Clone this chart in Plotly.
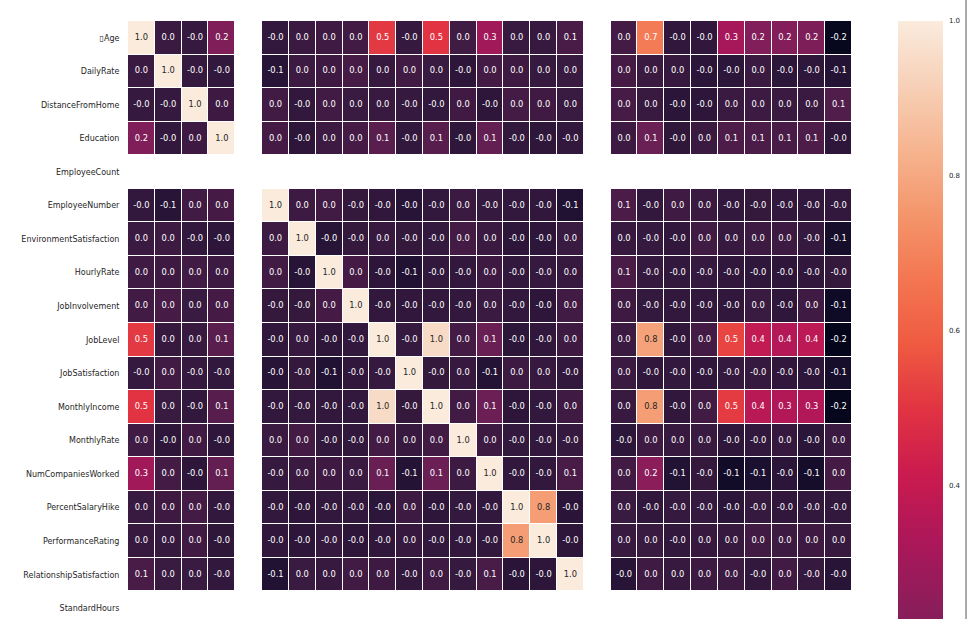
import plotly.graph_objects as go

N = None
# column order of the correlation matrix (last column = Attrition)
col_names = ["\u25afAge", "DailyRate", "DistanceFromHome", "Education", "EmployeeCount",
             "EmployeeNumber", "EnvironmentSatisfaction", "HourlyRate", "JobInvolvement",
             "JobLevel", "JobSatisfaction", "MonthlyIncome", "MonthlyRate",
             "NumCompaniesWorked", "PercentSalaryHike", "PerformanceRating",
             "RelationshipSatisfaction", "StandardHours", "StockOptionLevel",
             "TotalWorkingYears", "TrainingTimesLastYear", "WorkLifeBalance",
             "YearsAtCompany", "YearsInCurrentRole", "YearsSinceLastPromotion",
             "YearsWithCurrManager", "Attrition"]
row_names = col_names[:18]

age = [1.0, 0.011, -0.002, 0.208, N, -0.010, 0.010, 0.024, 0.030, 0.510, -0.005, 0.498, 0.028, 0.300, 0.004, 0.002, 0.054, N, 0.038, 0.680, -0.020, -0.021, 0.311, 0.213, 0.217, 0.202, -0.159]
daily_rate = [0.011, 1.0, -0.005, -0.017, N, -0.051, 0.018, 0.023, 0.046, 0.003, 0.031, 0.008, -0.032, 0.038, 0.023, 0.0005, 0.008, N, 0.042, 0.015, 0.002, -0.038, -0.034, 0.010, -0.033, -0.026, -0.057]
distance = [-0.002, -0.005, 1.0, 0.021, N, 0.033, -0.016, 0.031, 0.009, 0.005, -0.003, -0.017, 0.027, -0.029, 0.040, 0.027, 0.007, N, 0.045, 0.005, -0.037, -0.027, 0.010, 0.019, 0.010, 0.014, 0.078]
education = [0.208, -0.017, 0.021, 1.0, N, 0.042, -0.027, 0.017, 0.042, 0.102, -0.011, 0.095, -0.026, 0.126, -0.011, -0.025, -0.009, N, 0.018, 0.148, -0.025, 0.010, 0.069, 0.060, 0.054, 0.069, -0.031]
employee_count = [N] * 27
employee_number = [-0.010, -0.051, 0.033, 0.042, N, 1.0, 0.018, 0.035, -0.007, -0.019, -0.046, -0.015, 0.013, -0.001, -0.013, -0.020, -0.070, N, 0.062, -0.014, 0.024, 0.010, -0.011, -0.008, -0.009, -0.009, -0.010]
env_sat = [0.010, 0.018, -0.016, -0.027, N, 0.018, 1.0, -0.049, -0.008, 0.002, -0.007, -0.006, 0.038, 0.013, -0.032, -0.030, 0.008, N, 0.003, -0.003, -0.019, 0.028, 0.001, 0.018, 0.016, -0.005, -0.103]
hourly_rate = [0.024, 0.023, 0.031, 0.017, N, 0.035, -0.049, 1.0, 0.043, -0.028, -0.071, -0.016, -0.015, 0.022, -0.009, -0.002, 0.001, N, 0.051, -0.002, -0.009, -0.005, -0.020, -0.024, -0.027, -0.020, -0.007]
job_involvement = [0.030, 0.046, 0.009, 0.042, N, -0.007, -0.008, 0.043, 1.0, -0.013, -0.021, -0.015, -0.016, 0.015, -0.017, -0.029, 0.034, N, 0.022, -0.006, -0.015, -0.015, -0.021, 0.009, -0.024, 0.026, -0.130]
job_level = [0.510, 0.003, 0.005, 0.102, N, -0.019, 0.002, -0.028, -0.013, 1.0, -0.002, 0.951, 0.040, 0.143, -0.035, -0.021, 0.022, N, 0.014, 0.782, -0.018, 0.038, 0.535, 0.390, 0.354, 0.375, -0.169]
job_sat = [-0.005, 0.031, -0.003, -0.011, N, -0.046, -0.007, -0.071, -0.021, -0.002, 1.0, -0.007, 0.001, -0.056, 0.020, 0.002, -0.012, N, 0.011, -0.020, -0.006, -0.019, -0.004, -0.002, -0.018, -0.028, -0.103]
monthly_income = [0.498, 0.008, -0.017, 0.095, N, -0.015, -0.006, -0.016, -0.015, 0.951, -0.007, 1.0, 0.035, 0.149, -0.027, -0.017, 0.026, N, 0.005, 0.773, -0.022, 0.031, 0.514, 0.364, 0.345, 0.344, -0.160]
monthly_rate = [0.028, -0.032, 0.027, -0.026, N, 0.013, 0.038, -0.015, -0.016, 0.040, 0.001, 0.035, 1.0, 0.018, -0.006, -0.010, -0.004, N, -0.034, 0.026, 0.001, 0.008, -0.024, -0.013, 0.002, -0.037, 0.015]
num_companies = [0.300, 0.038, -0.029, 0.126, N, -0.001, 0.013, 0.022, 0.015, 0.143, -0.056, 0.149, 0.018, 1.0, -0.010, -0.014, 0.053, N, 0.030, 0.238, -0.066, -0.008, -0.118, -0.091, -0.037, -0.111, 0.043]
salary_hike = [0.004, 0.023, 0.040, -0.011, N, -0.013, -0.032, -0.009, -0.017, -0.035, 0.020, -0.027, -0.006, -0.010, 1.0, 0.774, -0.040, N, 0.008, -0.021, -0.005, -0.003, -0.036, -0.002, -0.022, -0.012, -0.013]
performance = [0.002, 0.0005, 0.027, -0.025, N, -0.020, -0.030, -0.002, -0.029, -0.021, 0.002, -0.017, -0.010, -0.014, 0.774, 1.0, -0.031, N, 0.004, 0.007, -0.016, 0.003, 0.003, 0.035, 0.018, 0.023, 0.003]
relationship = [0.054, 0.008, 0.007, -0.009, N, -0.070, 0.008, 0.001, 0.034, 0.022, -0.012, 0.026, -0.004, 0.053, -0.040, -0.031, 1.0, N, -0.046, 0.024, 0.003, 0.020, 0.019, -0.015, 0.033, -0.001, -0.046]
standard_hours = [N] * 27

z_rows = [age, daily_rate, distance, education, employee_count, employee_number,
          env_sat, hourly_rate, job_involvement, job_level, job_sat, monthly_income,
          monthly_rate, num_companies, salary_hike, performance, relationship,
          standard_hours]

ZMIN, ZMAX = -0.171, 1.0

rocket = [
    (0.0, "#03051A"), (0.0714, "#1C1030"), (0.1429, "#35193E"), (0.2143, "#521D4B"),
    (0.2857, "#701F57"), (0.3571, "#8E1D5B"), (0.4286, "#AD1759"), (0.5, "#CB1B4F"),
    (0.5714, "#E13342"), (0.6429, "#EF5A41"), (0.7143, "#F37651"), (0.7857, "#F4956B"),
    (0.8571, "#F6B48F"), (0.9286, "#F7D0B7"), (1.0, "#FAEBDD"),
]


def hex_rgb(h):
    return tuple(int(h[i:i + 2], 16) / 255 for i in (1, 3, 5))


def color_at(v):
    t = (v - ZMIN) / (ZMAX - ZMIN)
    t = min(max(t, 0), 1)
    for (p0, c0), (p1, c1) in zip(rocket[:-1], rocket[1:]):
        if p0 <= t <= p1:
            f = (t - p0) / (p1 - p0) if p1 > p0 else 0
            a, b = hex_rgb(c0), hex_rgb(c1)
            return tuple(a[k] + f * (b[k] - a[k]) for k in range(3))
    return hex_rgb(rocket[-1][1])


def lum(rgb):
    def lin(c):
        return c / 12.92 if c <= 0.03928 else ((c + 0.055) / 1.055) ** 2.4
    r, g, b = (lin(c) for c in rgb)
    return 0.2126 * r + 0.7152 * g + 0.0722 * b


xs, ys, txt, tcol = [], [], [], []
for i, row in enumerate(z_rows):
    for j, v in enumerate(row):
        if v is None:
            continue
        xs.append(j)
        ys.append(i)
        txt.append(f"{v:.1f}")
        tcol.append("#262626" if lum(color_at(v)) > 0.408 else "#ffffff")

FONT = "DejaVu Sans"

fig = go.Figure()
fig.add_trace(go.Heatmap(
    z=z_rows, x=list(range(len(col_names))), y=list(range(len(row_names))),
    zmin=ZMIN, zmax=ZMAX, colorscale=[[p, c] for p, c in rocket],
    xgap=1, ygap=1, hoverongaps=False,
    colorbar=dict(
        lenmode="pixels", len=906, y=1, yanchor="top", yref="paper",
        x=1.0635, xanchor="left", xpad=0, ypad=0, thickness=45, outlinewidth=0,
        tick0=0, dtick=0.2, tickformat=".1f",
        ticks="outside", ticklen=5, tickcolor="rgba(0,0,0,0)",
        tickfont=dict(family=FONT, size=7, color="#262626"),
    ),
))
fig.add_trace(go.Scatter(
    x=xs, y=ys, text=txt, mode="text",
    textfont=dict(family=FONT, size=8.3, color=tcol),
    hoverinfo="skip", showlegend=False,
))

fig.update_layout(
    width=969, height=619,
    margin=dict(l=128, r=117, t=21, b=0, autoexpand=False),
    paper_bgcolor="white", plot_bgcolor="white",
    showlegend=False,
    xaxis=dict(range=[-0.5, 26.5], showticklabels=False, showgrid=False,
               zeroline=False, ticks=""),
    yaxis=dict(range=[17.32, -0.5], tickmode="array",
               tickvals=list(range(len(row_names))), ticktext=row_names,
               showgrid=False, zeroline=False, ticks="outside", ticklen=6,
               tickcolor="rgba(0,0,0,0)",
               tickfont=dict(family=FONT, size=8, color="#262626")),
    shapes=[dict(type="line", xref="paper", yref="paper", x0=1.1575, x1=1.1575,
                 y0=-0.1, y1=1.1, line=dict(color="#555555", width=1))],
)

fig.write_html(
    "out.html",
    config={"displayModeBar": False},
    post_script="document.body.style.margin='0';document.body.style.overflow='hidden';",
)
